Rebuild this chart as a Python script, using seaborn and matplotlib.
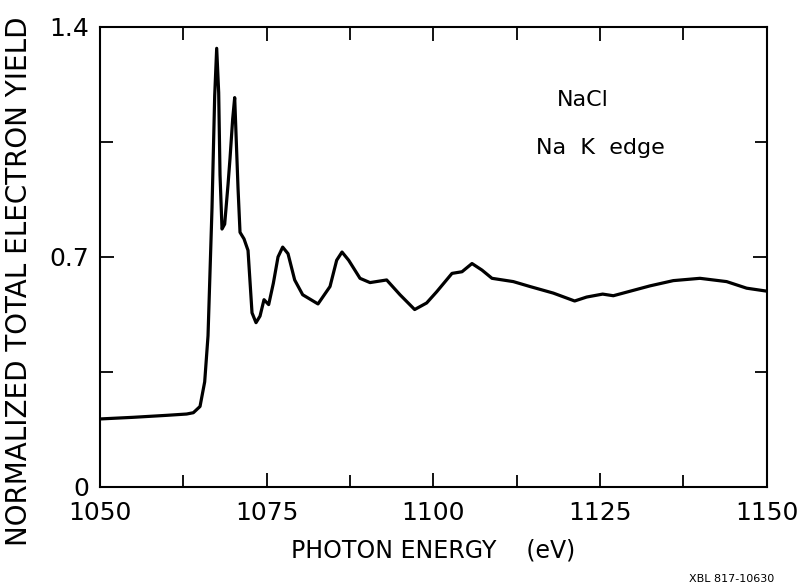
import matplotlib
matplotlib.use("Agg")
import matplotlib.pyplot as plt
from matplotlib.ticker import MultipleLocator
import seaborn as sns
import pandas as pd

energy = [1050, 1055, 1060, 1063, 1064, 1065, 1065.7, 1066.2, 1066.8, 1067.2, 1067.5,
          1067.8, 1068.0, 1068.3, 1068.7, 1069.2, 1069.5, 1069.9, 1070.2, 1070.7, 1071.0,
          1071.6, 1072.2, 1072.8, 1073.4, 1074.0, 1074.6, 1075.3, 1076.0, 1076.7, 1077.4,
          1078.2, 1079.2, 1080.4, 1082.7, 1084.5, 1085.5, 1086.3, 1087.3, 1089, 1090.5,
          1093, 1095, 1097.2, 1099, 1100.5, 1102.8, 1104.3, 1105.8, 1107.3, 1108.8, 1112,
          1114.5, 1118, 1121.2, 1123, 1125.4, 1127, 1132.5, 1136, 1140, 1144, 1147, 1150]
tey = [0.207, 0.212, 0.218, 0.222, 0.226, 0.245, 0.32, 0.46, 0.85, 1.19, 1.335,
       1.2, 0.95, 0.785, 0.80, 0.92, 1.0, 1.12, 1.185, 0.91, 0.775,
       0.755, 0.72, 0.53, 0.50, 0.52, 0.57, 0.555, 0.62, 0.70, 0.73,
       0.71, 0.63, 0.585, 0.557, 0.61, 0.69, 0.715, 0.69, 0.635, 0.622,
       0.63, 0.585, 0.54, 0.56, 0.594, 0.65, 0.655, 0.68, 0.66, 0.635, 0.625,
       0.61, 0.59, 0.566, 0.578, 0.587, 0.582, 0.612, 0.628, 0.635, 0.625, 0.605, 0.596]

x_ticks = [1050, 1075, 1100, 1125, 1150]
x_tick_labels = ["1050", "1075", "1100", "1125", "1150"]
y_ticks = [0, 0.7, 1.4]
y_tick_labels = ["0", "0.7", "1.4"]

sns.set_style("ticks")
plt.rcParams["font.family"] = ["DejaVu Sans"]
plt.rcParams.update({"text.color": "black", "axes.labelcolor": "black",
                     "xtick.color": "black", "ytick.color": "black"})

df = pd.DataFrame({"energy": energy, "tey": tey})

fig = plt.figure(figsize=(8.08, 5.86), dpi=100)
ax = fig.add_axes([0.1238, 0.169, 0.825, 0.785])
sns.lineplot(data=df, x="energy", y="tey", ax=ax, color="black", linewidth=2.3,
             sort=False, estimator=None)

ax.set_xlim(1050, 1150)
ax.set_ylim(0, 1.4)
ax.set_xticks(x_ticks)
ax.set_xticklabels(x_tick_labels, fontsize=18)
ax.set_yticks(y_ticks)
ax.set_yticklabels(y_tick_labels, fontsize=18)
ax.xaxis.set_minor_locator(MultipleLocator(12.5))
ax.yaxis.set_minor_locator(MultipleLocator(0.35))
ax.tick_params(which="both", direction="in", top=True, right=True, width=1.3, color="black")
ax.tick_params(which="major", length=10)
ax.tick_params(axis="x", which="major", pad=10)
ax.tick_params(axis="y", which="major", pad=8)
ax.tick_params(which="minor", length=9)
for s in ax.spines.values():
    s.set_linewidth(1.5)
    s.set_color("black")

ax.set_xlabel("PHOTON ENERGY    (eV)", fontsize=17, labelpad=10)
ax.set_ylabel("NORMALIZED TOTAL ELECTRON YIELD", fontsize=20)
ax.yaxis.set_label_coords(-0.1, 0.448)

ax.text(0.724, 0.841, "NaCl", transform=ax.transAxes, fontsize=16, ha="center", va="center")
ax.text(0.75, 0.737, "Na  K  edge", transform=ax.transAxes, fontsize=16, ha="center", va="center")

fig.text(0.853, 0.004, "XBL 817-10630", fontsize=8, ha="left", va="bottom")

fig.savefig("out.png", dpi=100)
